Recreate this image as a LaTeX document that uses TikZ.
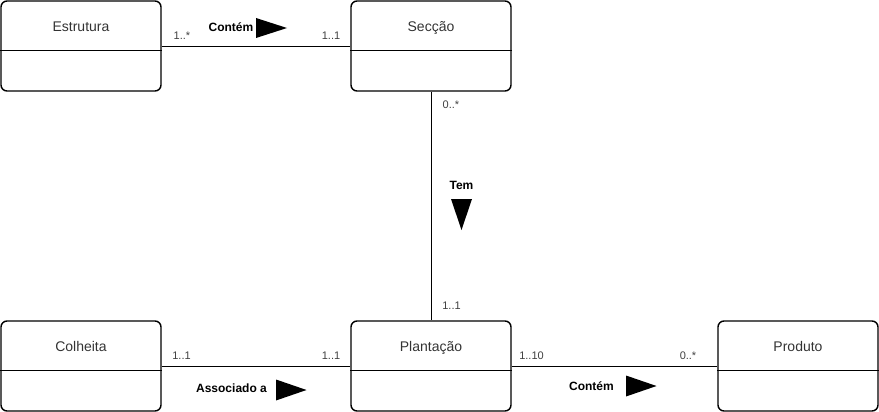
\documentclass[tikz,border=0pt]{standalone}
\usepackage{fontspec}
\setmainfont{Liberation Sans}
\tikzset{
  umlbox/.style={draw, line width=1.4pt, rounded corners=6pt, minimum width=160pt, minimum height=90pt, inner sep=0pt},
  title/.style={font=\fontsize{14pt}{16pt}\selectfont, text=black!80, inner sep=0pt, anchor=base},
  mult/.style={font=\fontsize{11pt}{13pt}\selectfont, text=black!75, inner sep=0pt},
  rel/.style={font=\bfseries\fontsize{12pt}{14pt}\selectfont, inner sep=0pt},
  conn/.style={draw, line width=0.9pt},
  tri/.style={fill=black}
}
\begin{document}
\begin{tikzpicture}[x=1pt,y=-1pt]
\useasboundingbox (0,0) rectangle (879,412);
% boxes
\node[umlbox] (estr) at (81,46) {};
\node[umlbox] (sec) at (431,46) {};
\node[umlbox] (colh) at (81,366) {};
\node[umlbox] (plant) at (431,366) {};
\node[umlbox] (prod) at (798,366) {};
% dividers
\foreach \b in {estr,sec,colh,plant,prod}{
  \draw[line width=1.4pt] ([yshift=-50pt]\b.north west) -- ([yshift=-50pt]\b.north east);
}
% titles
\node[title] (testr) at (81,31.5) {Estrutura};
\node[title] (tsec) at (431,31.5) {Secção};
\node[title] (tcolh) at (81,351.5) {Colheita};
\node[title] (tplant) at (431,351.5) {Plantação};
\node[title] (tprod) at (798,351.5) {Produto};
% connectors
\draw[conn] (estr.east) -- (sec.west);
\draw[conn] (sec.south) -- (plant.north);
\draw[conn] (colh.east) -- (plant.west);
\draw[conn] (plant.east) -- (prod.west);
% multiplicities
\node[mult] (m1) at (182,36) {1..*};
\node[mult] (m2) at (331,36) {1..1};
\node[mult] (m3) at (451,105) {0..*};
\node[mult] (m4) at (451.5,305.5) {1..1};
\node[mult] (m5) at (181.5,355.5) {1..1};
\node[mult] (m6) at (331,355.5) {1..1};
\node[mult] (m7) at (531.5,355.5) {1..10};
\node[mult] (m8) at (688,355.5) {0..*};
% relation labels
\node[rel] (r1) at (231,27.5) {Contém};
\node[rel] (r2) at (461.5,185.5) {Tem};
\node[rel] (r3) at (231.5,388) {Associado a};
\node[rel] (r4) at (591.5,386) {Contém};
% direction triangles
\fill[tri] (256,18) -- (287,28) -- (256,38) -- cycle;
\fill[tri] (451,199) -- (472,199) -- (461.5,230) -- cycle;
\fill[tri] (276,379.5) -- (306.5,390) -- (276,400.5) -- cycle;
\fill[tri] (626,375.5) -- (656.5,386) -- (626,396.5) -- cycle;
\end{tikzpicture}
\end{document}
